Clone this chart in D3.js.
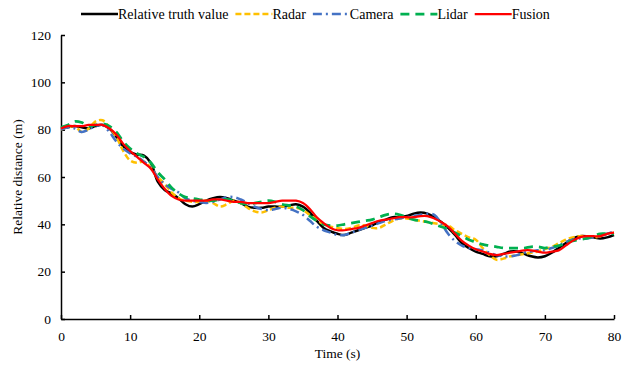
<!DOCTYPE html>
<html>
<head>
<meta charset="utf-8">
<script src="https://cdn.jsdelivr.net/npm/d3@7"></script>
<style>
  body { margin: 0; background: #fff; }
  svg text { font-family: "Liberation Serif", "Times New Roman", serif; fill: #000; }
</style>
</head>
<body>
<div id="chart"></div>
<script>
// time in seconds, one sample per second
var times = d3.range(0, 81);

var truthValues = [80.5, 81, 81.5, 81, 80.5, 81.5, 82, 80.5, 77, 73, 70.5, 69.5, 69, 66, 58, 54.5, 53, 51, 48.5, 47.5,
    48.5, 50, 51, 51.5, 51, 50, 49, 47.5, 47, 47, 47.5, 47.5, 47.5, 48, 48.5, 47.5, 45, 41.5, 38.5, 37,
    36, 35.5, 36.5, 37.5, 38.5, 39.5, 41, 42, 43, 43, 43.5, 44.5, 45, 44.5, 43, 41, 38.5, 35.5, 32, 30,
    28.5, 27.5, 26.5, 26.5, 27.5, 28.5, 28.5, 27.5, 26.5, 26, 26.5, 28, 30, 32, 34, 35, 35, 34.5, 34, 34.5, 35.5];

var radarValues = [80, 81, 81.5, 79, 80.5, 83.5, 84, 81, 77, 71, 67, 66, 66.5, 64, 60, 57, 53.5, 51, 50, 49.5,
    49.5, 50, 49, 47.5, 48.5, 50, 49, 47, 45.5, 45, 46, 47, 47.5, 47, 47, 46, 44, 42, 40, 39,
    38.5, 38, 38.5, 39.5, 39.5, 38.5, 38.5, 40, 41.5, 42.5, 42.5, 42, 41.5, 41, 40.5, 40, 39.5, 37.5, 36, 34.5,
    33.5, 30, 27, 25, 25.5, 26.5, 27, 27.5, 28, 28.5, 29.5, 30.5, 32, 33.5, 34.5, 35, 35, 34.5, 35, 36, 36.5];

var cameraValues = [80, 81, 80.5, 79, 80, 81.5, 82, 79, 75, 72, 70, 68.5, 66.5, 64, 60, 57, 55, 53.5, 51, 50,
    49.5, 49, 49.5, 50.5, 51.5, 51.5, 50.5, 49, 47.5, 46.5, 46, 46.5, 47, 46.5, 45.5, 44, 41.5, 39, 37.5, 36.5,
    35.5, 35.5, 36.5, 37.5, 38.5, 39.5, 40.5, 41.5, 42, 42.5, 43, 43.5, 44, 44.5, 44, 40.5, 36, 33, 31, 30,
    29.5, 29, 28, 27, 26.5, 26.5, 27, 28, 28.5, 29, 29, 30, 31, 32.5, 33.5, 34, 34, 34.5, 35, 36, 37];

var lidarValues = [81, 82, 83.5, 83, 81.5, 82, 82.5, 81.5, 79, 75, 72, 70, 68.5, 66, 62, 59, 55.5, 53, 51.5, 51,
    50.5, 50, 50, 50.5, 50.5, 50, 49, 48.5, 49, 49.5, 50, 49.5, 48.5, 48, 47.5, 46, 43.5, 41.5, 40, 39.5,
    39.5, 40, 40.5, 41, 41.5, 42, 43, 44, 44.5, 44, 43, 42, 41.5, 41, 40, 39, 38, 36.5, 35, 33.5,
    32.5, 31.5, 31, 30.5, 30, 30, 30, 30, 30.5, 30.5, 30, 30.5, 31, 32, 33, 33.5, 34, 35, 36, 36, 36];

var fusionValues = [80.5, 81.5, 81.5, 81.5, 82, 82, 82, 80.5, 78, 74, 71, 68.5, 66, 63.5, 59, 55, 52, 50.5, 50, 50,
    50, 50, 50.5, 50.5, 50, 49.5, 49.5, 49, 49, 49, 49, 49.5, 50, 50, 50, 49, 46.5, 43, 40.5, 38.5,
    37.5, 37.5, 38, 38.5, 39.5, 40.5, 41.5, 42, 42.5, 43, 43, 43, 43.5, 43.5, 42.5, 41, 39, 36, 33, 31,
    29.5, 28.5, 27.5, 27, 27.5, 28, 28.5, 29, 29, 28.5, 28, 28.5, 29, 31, 33, 34.5, 35, 35, 35, 36, 36.5];

var seriesNames = ["Relative truth value", "Radar", "Camera", "Lidar", "Fusion"];
var xTicks = [0, 10, 20, 30, 40, 50, 60, 70, 80];
var yTicks = [0, 20, 40, 60, 80, 100, 120];

var width = 630, height = 365;
var margin = {top: 35, right: 16, bottom: 46, left: 61};
var innerW = width - margin.left - margin.right;
var innerH = height - margin.top - margin.bottom;

var series = [
    {name: seriesNames[0], values: truthValues, color: "#000000", dash: null, w: 2.5},
    {name: seriesNames[1], values: radarValues, color: "#FFC000", dash: "6,3", w: 2.5},
    {name: seriesNames[2], values: cameraValues, color: "#4472C4", dash: "9,4,2,4", w: 2.5},
    {name: seriesNames[3], values: lidarValues, color: "#00B050", dash: "9,6", w: 2.75},
    {name: seriesNames[4], values: fusionValues, color: "#FF0000", dash: null, w: 2.25}
];

var svg = d3.select("#chart").append("svg")
    .attr("width", width)
    .attr("height", height);

var g = svg.append("g")
    .attr("transform", "translate(" + margin.left + "," + margin.top + ")");

var xScale = d3.scaleLinear().domain([0, 80]).range([0, innerW]);
var yScale = d3.scaleLinear().domain([0, 120]).range([innerH, 0]);

// axes, ticks pointing inward
var xAxis = g.append("g")
    .attr("transform", "translate(0," + innerH + ")")
    .call(d3.axisBottom(xScale).tickValues(xTicks).tickSizeInner(-4).tickSizeOuter(0).tickPadding(12));

var yAxis = g.append("g")
    .call(d3.axisLeft(yScale).tickValues(yTicks).tickSizeInner(-4).tickSizeOuter(0).tickPadding(10));

[xAxis, yAxis].forEach(function(a) {
    a.select(".domain").attr("stroke", "#000").attr("stroke-width", 1.5);
    a.selectAll(".tick line").attr("stroke", "#000").attr("stroke-width", 1.5);
    a.selectAll(".tick text").attr("font-size", 13.5).attr("font-family", "Liberation Serif");
});

var line = d3.line()
    .x(function(d, i) { return xScale(times[i]); })
    .y(function(d) { return yScale(d); })
    .curve(d3.curveCatmullRom);

g.selectAll(".series")
    .data(series)
    .enter()
    .append("path")
    .attr("class", "series")
    .attr("fill", "none")
    .attr("stroke", function(d) { return d.color; })
    .attr("stroke-width", function(d) { return d.w; })
    .attr("stroke-dasharray", function(d) { return d.dash; })
    .attr("d", function(d) { return line(d.values); });

// axis titles
svg.append("text")
    .attr("x", margin.left + innerW / 2)
    .attr("y", 358)
    .attr("text-anchor", "middle")
    .attr("font-size", 13.5)
    .text("Time (s)");

svg.append("text")
    .attr("transform", "translate(22," + (margin.top + innerH / 2) + ") rotate(-90)")
    .attr("text-anchor", "middle")
    .attr("font-size", 13.5)
    .text("Relative distance (m)");

// legend
var legend = svg.append("g").attr("transform", "translate(81,14)");
var lx = 0;
series.forEach(function(s) {
    legend.append("line")
        .attr("x1", lx).attr("x2", lx + 37)
        .attr("y1", 0).attr("y2", 0)
        .attr("stroke", s.color)
        .attr("stroke-width", s.w)
        .attr("stroke-dasharray", s.dash);
    var t = legend.append("text")
        .attr("x", lx + 37)
        .attr("y", 5)
        .attr("font-size", 14)
        .text(s.name);
    lx += 37 + t.node().getComputedTextLength() + 7;
});
</script>
</body>
</html>
